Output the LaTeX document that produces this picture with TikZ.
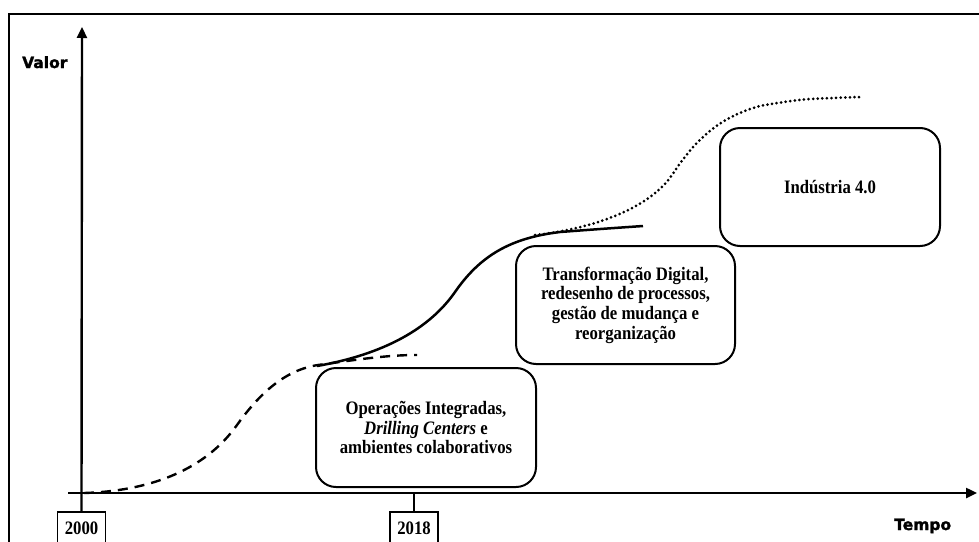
\documentclass[tikz,border=0pt]{standalone}
\usepackage{fontspec}
\setmainfont{Liberation Serif}
\newfontfamily\boxfont[FakeStretch=0.88]{Liberation Serif}
\newfontfamily\labelfont[FakeBold=1.6]{DejaVu Sans}
\usetikzlibrary{arrows.meta}

\begin{document}
\begin{tikzpicture}[x=1pt,y=-1pt,
  axisline/.style={line width=2.4pt},
  phasebox/.style={draw, line width=2pt, rounded corners=20pt, fill=white,
    align=center, inner sep=0pt,
    font=\boxfont\fontsize{19}{19.7}\selectfont\bfseries},
  yearbox/.style={draw, line width=1.8pt, fill=white, inner sep=0pt,
    minimum width=48pt, minimum height=32pt,
    font=\boxfont\fontsize{19}{20}\selectfont\bfseries},
  axislabel/.style={inner sep=0pt, anchor=base west,
    font=\labelfont\fontsize{15.5}{18}\selectfont\bfseries},
  dashedcurve/.style={line width=2.4pt, dash pattern=on 10pt off 7pt},
  solidcurve/.style={line width=2.5pt},
  dottedcurve/.style={line width=3pt, line cap=round, dash pattern=on 0pt off 4.6pt},
]
\useasboundingbox (0,0) rectangle (979,541);

% outer frame (only top and left edges fall inside the page)
\draw[line width=2pt] (9,560) -- (9,14) -- (1000,14);

% year markers below the time axis
\node[yearbox] (y2000) at (81.5,528) {2000};
\node[yearbox] (y2018) at (414,528) {2018};

% axes
\coordinate (ytop) at (82,27);
\coordinate (xstart) at (68,493);
\coordinate (xend) at (977,493);
\coordinate (t2018) at (414,493);
\draw[axisline,-{Triangle[length=11pt,width=10pt]}] (y2000.north) -- (ytop);
\draw[axisline,-{Triangle[length=11pt,width=10pt]}] (xstart) -- (xend);
\draw[line width=2pt] (t2018) -- (y2018.north);

\node[axislabel] (valor) at (22,68) {Valor};
\node[axislabel] (tempo) at (894,530) {Tempo};

% growth curves
\draw[dashedcurve] (84,493) .. controls (150,491) and (205,470) .. (237,425)
  .. controls (260,393) and (285,370) .. (318,365)
  .. controls (355,360) and (385,355) .. (417,355);
\draw[solidcurve] (317,366) .. controls (385,354) and (430,328) .. (455,292)
  .. controls (480,256) and (510,238) .. (560,232)
  .. controls (600,229) .. (643,226);
\draw[dottedcurve] (535,235) .. controls (600,228) and (652,205) .. (672,175)
  .. controls (692,145) and (715,118) .. (760,106)
  .. controls (800,99) .. (862,97);

% phase boxes
\node[phasebox, minimum width=220pt, minimum height=119pt] (ops) at (426,427.5)
  {Operações Integradas,\\ \textit{Drilling Centers} e\\ ambientes colaborativos};
\node[phasebox, minimum width=219pt, minimum height=118pt] (digital) at (625.5,305)
  {Transformação Digital,\\ redesenho de processos,\\ gestão de mudança e\\ reorganização};
\node[phasebox, minimum width=220pt, minimum height=118pt] (ind) at (830,187)
  {Indústria 4.0};
\end{tikzpicture}
\end{document}
